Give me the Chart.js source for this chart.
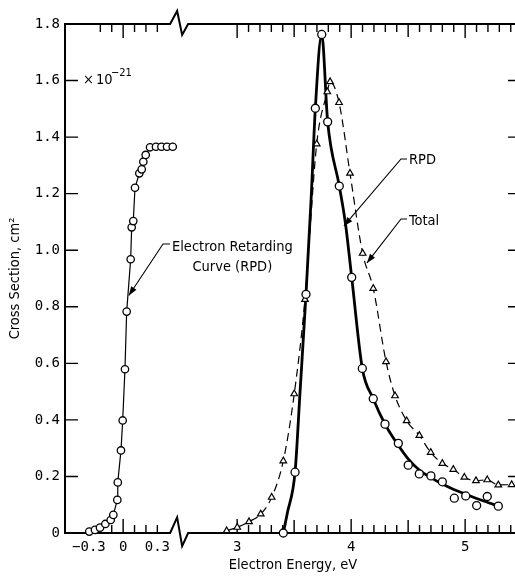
<!DOCTYPE html>
<html>
<head>
<meta charset="utf-8">
<script src="https://cdn.jsdelivr.net/npm/chart.js@4.4.1/dist/chart.umd.min.js"></script>
<style>
  html, body { margin: 0; padding: 0; background: #fff; overflow: hidden; }
  #wrap { width: 515px; height: 576px; overflow: hidden; }
</style>
</head>
<body>
<div id="wrap"><canvas id="chart" width="530" height="576"></canvas></div>
<script>
// energies in eV, cross sections in units of 1e-21 cm^2

// electron retarding curve (RPD), left block around 0 eV
const retardE = [-0.297, -0.247, -0.203, -0.156, -0.109, -0.086, -0.051, -0.047, -0.019, -0.004, 0.016, 0.031, 0.066, 0.075, 0.089, 0.104, 0.142, 0.163, 0.177, 0.198, 0.236, 0.288, 0.336, 0.385, 0.435];
const retardY = [0.005, 0.011, 0.019, 0.032, 0.046, 0.064, 0.117, 0.179, 0.292, 0.398, 0.579, 0.783, 0.968, 1.081, 1.103, 1.221, 1.272, 1.286, 1.313, 1.337, 1.364, 1.366, 1.366, 1.366, 1.366];

// RPD cross section: measured points
const rpdE = [3.405, 3.508, 3.604, 3.686, 3.742, 3.794, 3.896, 4.005, 4.098, 4.194, 4.297, 4.414, 4.501, 4.598, 4.70, 4.80, 4.905, 5.005, 5.101, 5.194, 5.291];
const rpdY = [0.0, 0.215, 0.844, 1.502, 1.763, 1.454, 1.227, 0.904, 0.582, 0.475, 0.385, 0.317, 0.240, 0.209, 0.202, 0.181, 0.123, 0.131, 0.097, 0.129, 0.095];

// RPD drawn curve
const rpdFitE = [3.405, 3.44, 3.508, 3.551, 3.604, 3.65, 3.686, 3.742, 3.794, 3.896, 3.95, 4.005, 4.098, 4.194, 4.297, 4.40, 4.50, 4.60, 4.70, 4.80, 4.90, 5.00, 5.10, 5.20, 5.291];
const rpdFitY = [0.0, 0.07, 0.215, 0.494, 0.844, 1.19, 1.502, 1.763, 1.454, 1.227, 1.095, 0.904, 0.582, 0.475, 0.385, 0.318, 0.262, 0.222, 0.196, 0.173, 0.154, 0.138, 0.122, 0.108, 0.095];

// total cross section
const totalE = [2.908, 3.001, 3.104, 3.207, 3.303, 3.405, 3.501, 3.595, 3.698, 3.791, 3.815, 3.894, 3.99, 4.101, 4.194, 4.306, 4.385, 4.487, 4.598, 4.698, 4.80, 4.896, 4.993, 5.095, 5.194, 5.291, 5.408];
const totalY = [0.008, 0.02, 0.04, 0.067, 0.126, 0.255, 0.492, 0.826, 1.376, 1.56, 1.596, 1.522, 1.272, 0.989, 0.865, 0.606, 0.485, 0.397, 0.345, 0.285, 0.246, 0.225, 0.197, 0.185, 0.188, 0.170, 0.171];

// axis labels
const xLabelE = [-0.3, 0, 0.3, 3, 4, 5];
const xLabelText = ['\u22120.3', '0', '0.3', '3', '4', '5'];
const yLabelV = [0, 0.2, 0.4, 0.6, 0.8, 1.0, 1.2, 1.4, 1.6, 1.8];
const yLabelText = ['0', '0.2', '0.4', '0.6', '0.8', '1.0', '1.2', '1.4', '1.6', '1.8'];

// the energy axis is broken between the two blocks
const SHIFT = 2;
const BREAK_AT = 0.5;
function toAxis(e) { return e > 1.5 ? e - SHIFT : e; }
function pts(es, ys) { return es.map((e, i) => ({ x: toAxis(e), y: ys[i] })); }

const FONT = "'DejaVu Sans Condensed', 'DejaVu Sans', sans-serif";
const TICKFONT = "'DejaVu Sans Mono', monospace";

// inward tick marks
const xMinor = [];
for (let k = -2; k <= 3; k++) xMinor.push(k / 10);
for (let k = 30; k <= 54; k++) xMinor.push(k / 10);

function arrowPath(ctx, p) {
  ctx.beginPath();
  ctx.moveTo(p[0][0], p[0][1]);
  for (let i = 1; i < p.length; i++) ctx.lineTo(p[i][0], p[i][1]);
  ctx.stroke();
  const [x1, y1] = p[p.length - 2], [x2, y2] = p[p.length - 1];
  const a = Math.atan2(y2 - y1, x2 - x1), L = 9, W = 3.2;
  ctx.beginPath();
  ctx.moveTo(x2, y2);
  ctx.lineTo(x2 - L * Math.cos(a) + W * Math.sin(a), y2 - L * Math.sin(a) - W * Math.cos(a));
  ctx.lineTo(x2 - L * Math.cos(a) - W * Math.sin(a), y2 - L * Math.sin(a) + W * Math.cos(a));
  ctx.closePath();
  ctx.fill();
}

const frame = {
  id: 'frame',
  beforeDatasetsDraw(chart) {
    const { ctx, chartArea: a, scales: { x, y } } = chart;
    const bx = x.getPixelForValue(BREAK_AT);
    ctx.save();
    ctx.strokeStyle = '#000';
    ctx.lineWidth = 2;
    ctx.beginPath();
    ctx.moveTo(a.left, a.top - 1);
    ctx.lineTo(a.left, a.bottom + 1);
    ctx.stroke();
    [[a.top, 1], [a.bottom, 1.2]].forEach(([yy, s]) => {
      ctx.beginPath();
      ctx.moveTo(a.left, yy);
      ctx.lineTo(bx - 10, yy);
      ctx.lineTo(bx - 3, yy - 13 * s);
      ctx.lineTo(bx + 2, yy + 11 * s);
      ctx.lineTo(bx + 8, yy);
      ctx.lineTo(a.right, yy);
      ctx.stroke();
    });
    ctx.lineWidth = 1.4;
    ctx.beginPath();
    yLabelV.forEach(v => {
      const py = y.getPixelForValue(v);
      ctx.moveTo(a.left, py); ctx.lineTo(a.left + 13, py);
      ctx.moveTo(a.right - 13, py); ctx.lineTo(a.right, py);
    });
    xMinor.forEach(e => {
      const px = x.getPixelForValue(toAxis(e));
      const r = Math.round(e * 10);
      let len = 8;
      if (r === 0 || r === 30 || r === 40 || r === 50) len = 14;
      else if (r === 35 || r === 45) len = 13;
      ctx.moveTo(px, a.bottom); ctx.lineTo(px, a.bottom - len);
      ctx.moveTo(px, a.top); ctx.lineTo(px, a.top + len);
    });
    ctx.stroke();
    ctx.restore();
  },
  afterDatasetsDraw(chart) {
    const { ctx, scales: { x, y } } = chart;
    const P = (e, v) => [x.getPixelForValue(toAxis(e)), y.getPixelForValue(v)];
    ctx.save();
    ctx.fillStyle = '#000';
    ctx.strokeStyle = '#000';
    ctx.lineWidth = 1.1;
    ctx.font = '14.5px ' + FONT;
    ctx.textBaseline = 'middle';
    ctx.textAlign = 'left';

    // multiplier
    ctx.fillText('\u00d7', 83, 80);
    ctx.fillText('10', 96, 80);
    ctx.font = '11px ' + FONT;
    ctx.fillText('\u221221', 111, 73);
    ctx.font = '14.5px ' + FONT;

    // retarding curve note
    const t1 = 'Electron Retarding';
    const w1 = ctx.measureText(t1).width;
    ctx.fillText(t1, 172, 247);
    ctx.textAlign = 'center';
    ctx.fillText('Curve (RPD)', 172 + w1 / 2, 267);
    ctx.textAlign = 'left';
    arrowPath(ctx, [[170, 244], [163, 244], P(0.05, 0.84)]);

    // RPD note
    ctx.fillText('RPD', 409, 160);
    arrowPath(ctx, [[407, 159], [401, 159], P(3.937, 1.086)]);

    // Total note
    ctx.fillText('Total', 409, 221);
    arrowPath(ctx, [[407, 219], [401, 219], P(4.139, 0.955)]);
    ctx.restore();
  }
};

const ctx = document.getElementById('chart').getContext('2d');
new Chart(ctx, {
  type: 'scatter',
  data: {
    datasets: [
      {
        label: 'Retarding curve',
        data: pts(retardE, retardY),
        showLine: true,
        borderColor: '#000',
        borderWidth: 1.2,
        pointRadius: 3.7,
        pointBorderWidth: 1.3,
        pointBackgroundColor: '#fff',
        pointBorderColor: '#000',
        clip: false,
        order: 0
      },
      {
        label: 'RPD points',
        data: pts(rpdE, rpdY),
        showLine: false,
        pointRadius: 4,
        pointBorderWidth: 1.3,
        pointBackgroundColor: '#fff',
        pointBorderColor: '#000',
        clip: false,
        order: 0
      },
      {
        label: 'RPD',
        data: pts(rpdFitE, rpdFitY),
        showLine: true,
        borderColor: '#000',
        borderWidth: 2.8,
        pointRadius: 0,
        cubicInterpolationMode: 'monotone',
        clip: false,
        order: 2
      },
      {
        label: 'Total',
        data: pts(totalE, totalY),
        showLine: true,
        borderColor: '#000',
        borderWidth: 1.2,
        borderDash: [8, 5],
        cubicInterpolationMode: 'monotone',
        pointStyle: 'triangle',
        pointRadius: 3.8,
        pointBorderWidth: 1.2,
        pointBackgroundColor: '#fff',
        pointBorderColor: '#000',
        clip: false,
        order: 1
      }
    ]
  },
  options: {
    responsive: false,
    animation: false,
    layout: { padding: { top: 24, right: 9, left: 0, bottom: 0 } },
    plugins: { legend: { display: false }, tooltip: { enabled: false } },
    scales: {
      x: {
        type: 'linear',
        min: -0.51,
        max: 3.49,
        afterFit: s => { s.height = 43; },
        afterBuildTicks: s => { s.ticks = xLabelE.map(e => ({ value: toAxis(e) })); },
        grid: { display: false, drawTicks: false },
        border: { display: false },
        ticks: {
          autoSkip: false, maxRotation: 0, padding: 6,
          color: '#000', font: { family: TICKFONT, size: 14 },
          callback: (v, i) => xLabelText[i]
        },
        title: {
          display: true, text: 'Electron Energy, eV', color: '#000',
          font: { family: FONT, size: 14.5 }, padding: { top: 0, bottom: 2 }
        }
      },
      y: {
        min: 0,
        max: 1.8,
        afterFit: s => { s.width = 65; },
        afterBuildTicks: s => { s.ticks = yLabelV.map(v => ({ value: v })); },
        grid: { display: false, drawTicks: false },
        border: { display: false },
        ticks: {
          padding: 5, color: '#000', font: { family: TICKFONT, size: 14 },
          callback: (v, i) => yLabelText[i]
        },
        title: {
          display: true, text: 'Cross Section, cm\u00b2', color: '#000',
          font: { family: FONT, size: 14.5 }, padding: { top: 7, bottom: 0 }
        }
      }
    }
  },
  plugins: [frame]
});
</script>
</body>
</html>
